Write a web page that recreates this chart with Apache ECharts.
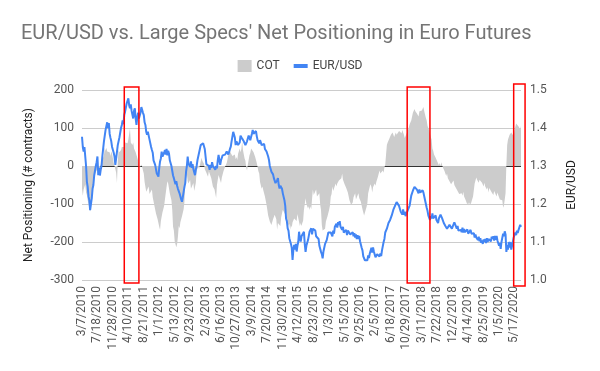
<!DOCTYPE html>
<html><head><meta charset="utf-8">
<script src="https://cdn.jsdelivr.net/npm/echarts@6/dist/echarts.min.js"></script>
<style>html,body{margin:0;padding:0;background:#fff}#c{width:600px;height:371px}</style>
</head><body><div id="c"></div>
<script>
// ---- data ----
const titleText = "EUR/USD vs. Large Specs' Net Positioning in Euro Futures";
const firstWeek = [2010, 3, 7];   // weekly categories start (Sunday)
const weekCount = 541;

const eurusd = [
1.377,1.35,1.338,1.35,1.325,1.30,1.259,1.245,1.22,1.21,
1.184,1.20,1.215,1.24,1.25,1.275,1.28,1.30,1.31,1.325,
1.276,1.295,1.275,1.29,1.30,1.325,1.345,1.365,1.38,1.395,
1.40,1.415,1.40,1.413,1.385,1.374,1.365,1.35,1.348,1.335,
1.325,1.303,1.32,1.325,1.355,1.36,1.375,1.37,1.40,1.408,
1.42,1.41,1.435,1.443,1.445,1.465,1.46,1.478,1.46,1.452,
1.462,1.445,1.45,1.425,1.445,1.452,1.425,1.408,1.428,1.44,
1.425,1.43,1.44,1.455,1.46,1.44,1.434,1.415,1.408,1.39,
1.382,1.39,1.39,1.37,1.368,1.35,1.342,1.335,1.315,1.315,
1.303,1.30,1.28,1.285,1.272,1.295,1.312,1.32,1.338,1.325,
1.32,1.335,1.342,1.33,1.345,1.328,1.34,1.333,1.315,1.312,
1.30,1.298,1.275,1.268,1.265,1.252,1.26,1.248,1.24,1.238,
1.228,1.224,1.212,1.206,1.218,1.222,1.245,1.255,1.285,1.30,
1.325,1.305,1.31,1.298,1.312,1.295,1.305,1.292,1.29,1.276,
1.29,1.30,1.315,1.32,1.335,1.338,1.355,1.35,1.36,1.36,
1.365,1.345,1.325,1.305,1.31,1.305,1.30,1.29,1.303,1.295,
1.31,1.30,1.298,1.305,1.29,1.30,1.294,1.315,1.329,1.315,
1.303,1.315,1.318,1.328,1.333,1.325,1.33,1.325,1.338,1.342,
1.33,1.325,1.345,1.351,1.365,1.37,1.39,1.395,1.375,1.355,
1.365,1.368,1.355,1.36,1.362,1.38,1.382,1.372,1.375,1.365,
1.368,1.355,1.351,1.365,1.368,1.38,1.377,1.368,1.372,1.385,
1.395,1.385,1.39,1.385,1.392,1.378,1.368,1.37,1.36,1.368,
1.364,1.355,1.36,1.35,1.358,1.345,1.348,1.338,1.34,1.325,
1.316,1.30,1.298,1.285,1.281,1.278,1.268,1.268,1.255,1.259,
1.262,1.268,1.25,1.241,1.248,1.245,1.24,1.228,1.228,1.21,
1.195,1.162,1.155,1.136,1.13,1.11,1.108,1.095,1.085,1.053,
1.08,1.092,1.08,1.095,1.075,1.09,1.10,1.127,1.11,1.101,
1.115,1.118,1.11,1.127,1.095,1.074,1.09,1.09,1.105,1.11,
1.128,1.125,1.136,1.12,1.135,1.138,1.13,1.13,1.115,1.12,
1.11,1.108,1.09,1.09,1.074,1.068,1.057,1.075,1.08,1.095,
1.09,1.105,1.105,1.125,1.12,1.13,1.125,1.13,1.115,1.13,
1.122,1.14,1.135,1.148,1.138,1.152,1.145,1.155,1.14,1.145,
1.132,1.14,1.125,1.13,1.124,1.132,1.118,1.13,1.125,1.13,
1.12,1.125,1.118,1.126,1.115,1.123,1.112,1.12,1.108,1.118,
1.108,1.116,1.102,1.105,1.085,1.078,1.062,1.065,1.052,1.048,
1.055,1.052,1.065,1.058,1.07,1.066,1.085,1.072,1.086,1.075,
1.075,1.06,1.057,1.068,1.072,1.07,1.062,1.07,1.063,1.078,
1.083,1.10,1.108,1.125,1.122,1.135,1.138,1.15,1.145,1.158,
1.155,1.17,1.168,1.185,1.18,1.195,1.19,1.205,1.20,1.21,
1.195,1.192,1.18,1.185,1.172,1.186,1.172,1.18,1.168,1.172,
1.172,1.185,1.18,1.196,1.20,1.222,1.22,1.235,1.23,1.245,
1.24,1.25,1.238,1.24,1.228,1.238,1.23,1.235,1.228,1.236,
1.23,1.232,1.21,1.208,1.19,1.182,1.17,1.172,1.158,1.168,
1.162,1.175,1.162,1.165,1.158,1.17,1.158,1.162,1.15,1.162,
1.16,1.172,1.172,1.162,1.16,1.15,1.152,1.142,1.142,1.135,
1.14,1.135,1.145,1.14,1.145,1.135,1.14,1.138,1.152,1.148,
1.148,1.135,1.142,1.13,1.135,1.128,1.132,1.126,1.138,1.125,
1.134,1.126,1.13,1.122,1.133,1.122,1.125,1.12,1.132,1.122,
1.126,1.118,1.123,1.112,1.12,1.112,1.116,1.105,1.114,1.102,
1.11,1.098,1.104,1.095,1.107,1.10,1.108,1.097,1.11,1.10,
1.108,1.104,1.112,1.102,1.114,1.108,1.115,1.104,1.116,1.106,
1.116,1.104,1.105,1.09,1.098,1.082,1.10,1.105,1.122,1.115,
1.128,1.12,1.074,1.092,1.08,1.10,1.085,1.10,1.08,1.09,
1.09,1.112,1.108,1.125,1.118,1.13,1.124,1.132,1.128,1.145,1.14
];

const cot = [
-60,-78,-62,-60,-48,-70,-76,-90,-88,-110,
-120,-105,-98,-65,-45,-26,-28,-16,-18,-8,
-12,-4,-8,2,10,8,22,28,48,40,
48,38,42,33,36,26,38,32,28,8,
4,-8,-18,-45,12,42,36,40,42,50,
45,54,50,62,58,64,60,70,72,99,
62,58,55,62,46,45,36,40,22,14,
2,-4,0,4,-2,-12,-20,-42,-46,-68,
-72,-68,-54,-74,-72,-78,-62,-82,-80,-104,
-106,-125,-122,-140,-135,-160,-168,-145,-140,-122,
-125,-105,-106,-72,-55,-40,-46,-50,-72,-70,
-90,-115,-160,-170,-198,-200,-214,-205,-186,-158,
-164,-148,-150,-132,-134,-114,-95,-45,-40,-20,
-40,-46,-50,-36,-60,-62,-64,-45,-66,-62,
-45,-12,-15,-2,-8,2,2,22,14,18,
6,-8,-6,-18,-16,-28,-14,-20,-18,-32,
-30,-54,-50,-62,-66,-84,-50,-36,-24,-28,
-28,-45,-30,-32,-14,-12,-2,-6,8,18,
30,30,40,34,32,26,28,26,30,18,
24,16,32,32,46,36,45,64,42,40,
20,14,-4,-12,4,8,28,34,46,42,
48,36,36,24,28,8,6,-14,-20,-42,
-46,-60,-54,-64,-60,-80,-82,-102,-106,-130,
-132,-146,-142,-155,-150,-140,-142,-128,-132,-140,
-168,-150,-150,-145,-158,-135,-132,-115,-116,-112,
-128,-120,-134,-136,-158,-152,-168,-156,-162,-148,
-150,-138,-140,-134,-145,-126,-124,-130,-158,-150,
-158,-150,-144,-115,-110,-85,-100,-98,-112,-106,
-116,-106,-114,-86,-62,-76,-72,-74,-62,-80,
-82,-84,-72,-102,-116,-155,-170,-175,-168,-165,
-146,-148,-132,-132,-115,-104,-80,-74,-54,-66,
-62,-62,-46,-54,-46,-50,-38,-42,-34,-32,
-20,-36,-38,-48,-46,-58,-54,-70,-72,-90,
-90,-102,-98,-96,-82,-84,-72,-88,-90,-88,
-72,-84,-82,-94,-98,-114,-116,-130,-130,-126,
-108,-98,-72,-70,-54,-48,-55,-70,-56,-54,
-46,-52,-42,-44,-28,-28,-12,-20,-16,-20,
-12,-18,-4,3,30,55,62,60,72,68,
82,78,88,84,76,80,88,82,84,78,
92,90,96,86,95,88,82,74,70,84,
82,94,96,110,106,120,124,140,138,150,
144,148,138,142,130,144,148,140,146,145,
155,144,146,126,120,106,110,94,92,76,
70,46,40,30,32,22,26,12,10,2,
8,0,10,2,-4,0,-14,-16,-26,-20,
-32,-28,-40,-38,-48,-46,-50,-38,-50,-46,
-58,-54,-66,-62,-74,-70,-78,-72,-78,-68,
-80,-76,-90,-88,-102,-96,-104,-96,-102,-98,
-100,-80,-75,-46,-44,-30,-36,-32,-44,-36,
-40,-36,-44,-42,-54,-44,-54,-50,-62,-56,
-70,-58,-62,-56,-70,-66,-76,-66,-70,-68,
-80,-70,-76,-74,-88,-84,-92,-90,-110,-104,
-88,-72,3,55,70,68,82,78,88,84,
86,78,94,96,112,114,116,104,108,96,105
];

const leftAxis = { min: -300, max: 200, interval: 100 };
const rightAxis = { min: 1.0, max: 1.5, interval: 0.1 };
// highlighted periods (week index ranges) shown with red frames
const highlightWeeks = [[52, 70], [400, 428], [531, 545]];

// ---- build categories ----
const categories = [];
const t0 = Date.UTC(firstWeek[0], firstWeek[1] - 1, firstWeek[2]);
for (let i = 0; i < weekCount; i++) {
  const d = new Date(t0 + i * 7 * 86400000);
  categories.push((d.getUTCMonth() + 1) + '/' + d.getUTCDate() + '/' + d.getUTCFullYear());
}

const chart = echarts.init(document.getElementById('c'), null, { renderer: 'canvas' });
const FONT = 'Roboto';
const option = {
  animation: false,
  backgroundColor: '#ffffff',
  textStyle: { fontFamily: FONT },
  title: {
    text: titleText, left: 16, top: 19,
    textStyle: { fontFamily: FONT, fontSize: 20, fontWeight: 'normal', color: '#757575' }
  },
  legend: {
    top: 55, left: 'center', itemGap: 14, itemWidth: 14, itemHeight: 12,
    textStyle: { fontFamily: FONT, fontSize: 12, color: '#444' },
    data: [
      { name: 'COT', icon: 'rect', itemStyle: { color: '#cccccc' } },
      { name: 'EUR/USD', icon: 'path://M0,0 H14 V4 H0 Z', itemStyle: { color: '#4285f4' } }
    ]
  },
  grid: { left: 82, right: 79, top: 90, bottom: 91, containLabel: false },
  xAxis: {
    type: 'category', data: categories, boundaryGap: false,
    axisLine: { show: false }, axisTick: { show: false },
    axisLabel: { rotate: 90, interval: 18, fontFamily: FONT, fontSize: 12, color: '#555', margin: 6 },
    splitLine: { show: false }
  },
  yAxis: [
    {
      type: 'value', min: leftAxis.min, max: leftAxis.max, interval: leftAxis.interval,
      name: 'Net Positioning (# contracts)', nameLocation: 'middle', nameGap: 47,
      nameTextStyle: { fontFamily: FONT, fontSize: 12, color: '#222' },
      axisLine: { show: false }, axisTick: { show: false },
      axisLabel: { fontFamily: FONT, fontSize: 12, color: '#555', margin: 8 },
      splitLine: { lineStyle: { color: '#cccccc', width: 1 } }
    },
    {
      type: 'value', min: rightAxis.min, max: rightAxis.max, interval: rightAxis.interval,
      name: 'EUR/USD', nameLocation: 'middle', nameGap: 45,
      nameTextStyle: { fontFamily: FONT, fontSize: 12, color: '#222' },
      axisLine: { show: false }, axisTick: { show: false },
      axisLabel: { fontFamily: FONT, fontSize: 12, color: '#555', margin: 9,
        formatter: v => v.toFixed(1) },
      splitLine: { show: false }
    }
  ],
  series: [
    {
      name: 'COT', type: 'line', yAxisIndex: 0, data: cot, z: 2,
      symbol: 'none', sampling: null,
      lineStyle: { width: 0, color: '#cccccc' },
      itemStyle: { color: '#cccccc' },
      areaStyle: { color: '#cccccc', opacity: 1 }
    },
    {
      name: 'EUR/USD', type: 'line', yAxisIndex: 1, data: eurusd, z: 3,
      symbol: 'none',
      lineStyle: { width: 2, color: '#4285f4' },
      itemStyle: { color: '#4285f4' }
    }
  ]
};
chart.setOption(option);

// zero baseline (under the area) and red frames, placed through the axes
const p0 = chart.convertToPixel({ xAxisIndex: 0 }, 0);
const p1 = chart.convertToPixel({ xAxisIndex: 0 }, 1);
const pEnd = chart.convertToPixel({ xAxisIndex: 0 }, weekCount - 1);
const step = p1 - p0;
const yTop = chart.convertToPixel({ yAxisIndex: 0 }, leftAxis.max);
const yBot = chart.convertToPixel({ yAxisIndex: 0 }, leftAxis.min);
const yZero = chart.convertToPixel({ yAxisIndex: 0 }, 0);
const graphics = [{
  type: 'line', z: 1, silent: true,
  shape: { x1: p0, y1: Math.round(yZero) + 0.5, x2: pEnd, y2: Math.round(yZero) + 0.5 },
  style: { stroke: '#333333', lineWidth: 1 }
}];
highlightWeeks.forEach((r, k) => {
  const xa = p0 + r[0] * step, xb = p0 + r[1] * step;
  const pad = k === 2 ? 6 : 3;
  graphics.push({
    type: 'rect', z: 100, silent: true,
    shape: { x: xa, y: yTop - pad, width: xb - xa, height: (yBot - yTop) + pad * 2 },
    style: { fill: 'none', stroke: '#ff0000', lineWidth: 1.5 }
  });
});
chart.setOption({ graphic: graphics });
</script>
</body></html>
